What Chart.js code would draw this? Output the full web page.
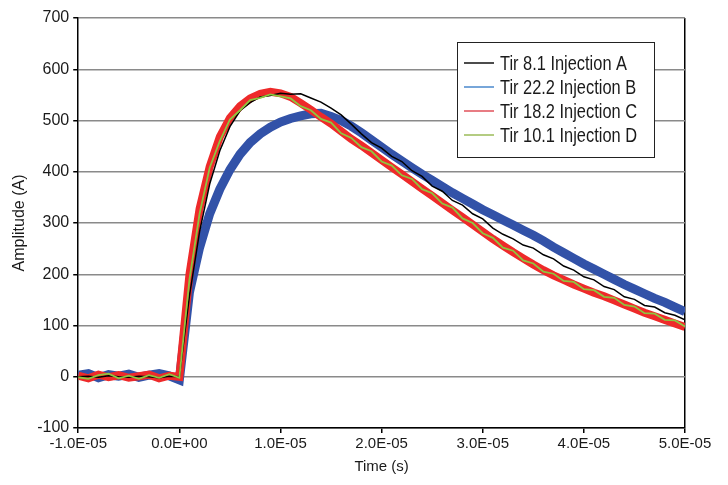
<!DOCTYPE html>
<html>
<head>
<meta charset="utf-8">
<script src="https://cdn.jsdelivr.net/npm/chart.js@4"></script>
<style>
  html, body { margin: 0; padding: 0; background: #fff; }
  #wrap { width: 728px; height: 485px; }
</style>
</head>
<body>
<div id="wrap"><canvas id="myChart" width="728" height="485"></canvas></div>
<script>
// time in microseconds
var timeUs = [-10, -9, -8, -7, -6, -5, -4, -3, -2, -1, 0,
  1, 2, 3, 4, 5, 6, 7, 8, 9, 10, 11, 12, 13, 14, 15, 16, 17, 18, 19, 20,
  21, 22, 23, 24, 25, 26, 27, 28, 29, 30, 31, 32, 33, 34, 35, 36, 37, 38, 39, 40,
  41, 42, 43, 44, 45, 46, 47, 48, 49, 50];

var injA = [0, 1, -1, 2, 0, -1, 1, 0, -2, 1, 0,
  158, 283, 376, 441, 488, 519, 535, 546, 549, 553, 551, 552, 544, 536, 524, 511, 493, 474, 457, 446,
  430, 420, 402, 391, 372, 362, 344, 335, 318, 308, 290, 278, 269, 257, 251, 238, 230, 216, 208, 195,
  189, 176, 170, 156, 151, 139, 136, 125, 120, 111];

var injB = [3, 6, -2, 4, 1, 5, -1, 3, 6, 2, -6,
  165, 252, 318, 366, 404, 434, 457, 474, 487, 497, 504, 509, 513, 514, 508, 500, 489, 476, 462, 448,
  434, 421, 408, 395, 383, 371, 359, 348, 337, 326, 316, 306, 296, 286, 276, 265, 253, 242, 231, 220,
  210, 200, 190, 180, 171, 162, 153, 145, 136, 127];

var injC = [2, -3, 4, -1, 3, -2, 1, 4, -3, 2, 0,
  200, 328, 410, 468, 505, 528, 543, 552, 556, 553, 546, 534, 521, 507, 494, 479, 464, 451, 437, 423,
  409, 395, 381, 367, 353, 339, 325, 311, 297, 283, 269, 256, 243, 231, 219, 208, 198, 189, 180, 172,
  164, 157, 149, 141, 133, 125, 118, 111, 104, 97];

var injD = [-1, -4, 3, 6, -3, 2, -4, 3, -2, 5, -2,
  190, 318, 408, 460, 502, 520, 540, 544, 551, 547, 543, 528, 520, 503, 496, 475, 466, 448, 440, 420,
  412, 393, 386, 366, 358, 338, 330, 309, 300, 280, 271, 252, 246, 227, 221, 205, 201, 187, 185, 171,
  169, 156, 154, 140, 137, 124, 123, 111, 110, 98];

var seriesNames = ['Tir 8.1 Injection A', 'Tir 22.2 Injection B', 'Tir 18.2 Injection C', 'Tir 10.1 Injection D'];
var legendColors = ['#111111', '#4a88cc', '#e0505a', '#9bbb59'];

function pts(ys) {
  return timeUs.map(function (t, i) { return { x: t, y: ys[i] }; });
}

function sci(v) {
  if (Math.abs(v) < 1e-9) return '0.0E+00';
  var s = (v * 1e-6).toExponential(1);
  var parts = s.split('e');
  var n = parseInt(parts[1], 10);
  return parts[0] + 'E' + (n < 0 ? '-' : '+') + String(Math.abs(n)).padStart(2, '0');
}

var SANS = "'Liberation Sans', Arial, sans-serif";

// legend drawn as a boxed panel inside the plot, like the original
var boxLegend = {
  id: 'boxLegend',
  afterDatasetsDraw: function (chart) {
    var ctx = chart.ctx, ca = chart.chartArea;
    var x0 = ca.right - 228, y0 = ca.top + 24, w = 197, h = 115;
    ctx.save();
    ctx.fillStyle = '#fff';
    ctx.fillRect(x0, y0, w, h);
    ctx.strokeStyle = '#222';
    ctx.lineWidth = 1;
    ctx.strokeRect(x0 + 0.5, y0 + 0.5, w, h);
    ctx.textBaseline = 'middle';
    for (var i = 0; i < seriesNames.length; i++) {
      var y = y0 + 21 + i * 24;
      ctx.strokeStyle = legendColors[i];
      ctx.lineWidth = 1.5;
      ctx.beginPath();
      ctx.moveTo(x0 + 7, y);
      ctx.lineTo(x0 + 37, y);
      ctx.stroke();
      // condensed text, as in the original
      ctx.save();
      ctx.translate(x0 + 43, y + 1);
      ctx.scale(0.82, 1);
      ctx.font = '20px ' + SANS;
      ctx.fillStyle = '#1a1a1a';
      ctx.fillText(seriesNames[i], 0, 0);
      ctx.restore();
    }
    ctx.restore();
  }
};

new Chart('myChart', {
  type: 'line',
  data: {
    datasets: [
      { label: seriesNames[0], data: pts(injA), borderColor: '#000', borderWidth: 1.5, order: 1 },
      { label: seriesNames[1], data: pts(injB), borderColor: '#3252a8', borderWidth: 9, order: 3 },
      { label: seriesNames[2], data: pts(injC), borderColor: '#ee2a2a', borderWidth: 8, order: 2 },
      { label: seriesNames[3], data: pts(injD), borderColor: '#8dc63f', borderWidth: 1.8, order: 0 }
    ]
  },
  options: {
    responsive: false,
    animation: false,
    elements: { point: { radius: 0 }, line: { tension: 0, fill: false } },
    layout: { padding: { top: 18, right: 43, left: 6, bottom: 5 } },
    plugins: {
      legend: { display: false },
      tooltip: { enabled: false }
    },
    scales: {
      x: {
        type: 'linear',
        min: -10,
        max: 50,
        ticks: {
          stepSize: 10,
          color: '#1a1a1a',
          font: { family: SANS, size: 15 },
          maxRotation: 0,
          padding: 2,
          callback: function (v) { return sci(v); }
        },
        grid: {
          drawOnChartArea: true,
          color: function (c) { return c.tick && c.tick.value === 50 ? '#000' : 'rgba(0,0,0,0)'; },
          tickColor: '#000',
          tickLength: 5,
          lineWidth: 1.5
        },
        border: { display: true, color: '#000', width: 1.5 },
        title: { display: true, text: 'Time (s)', color: '#1a1a1a', font: { family: SANS, size: 15 }, padding: { top: 3 } }
      },
      y: {
        min: -100,
        max: 700,
        ticks: {
          stepSize: 100,
          color: '#1a1a1a',
          font: { family: SANS, size: 16 },
          padding: 4
        },
        grid: {
          color: '#8a8a8a',
          lineWidth: 1.5,
          tickColor: '#000',
          tickLength: 5
        },
        border: { display: true, color: '#000', width: 1.5 },
        title: { display: true, text: 'Amplitude (A)', color: '#1a1a1a', font: { family: SANS, size: 16 }, padding: { bottom: 4 } }
      }
    }
  },
  plugins: [boxLegend]
});
</script>
</body>
</html>
